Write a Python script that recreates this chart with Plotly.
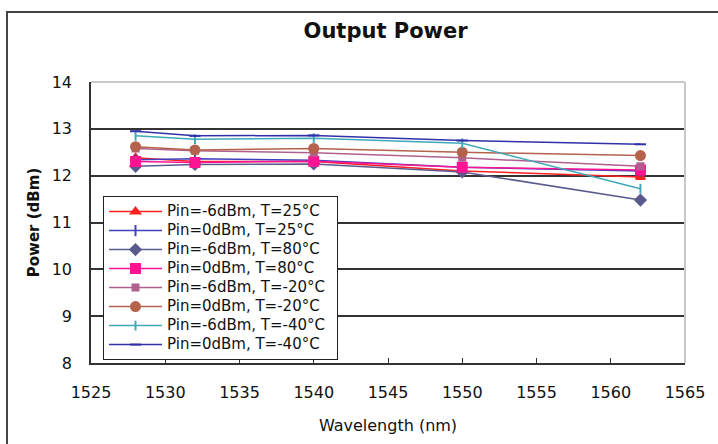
import plotly.graph_objects as go

wavelength = [1528, 1532, 1540, 1550, 1562]

names = [
    "Pin=-6dBm, T=25°C",
    "Pin=0dBm, T=25°C",
    "Pin=-6dBm, T=80°C",
    "Pin=0dBm, T=80°C",
    "Pin=-6dBm, T=-20°C",
    "Pin=0dBm, T=-20°C",
    "Pin=-6dBm, T=-40°C",
    "Pin=0dBm, T=-40°C",
]

p_m6_25 = [12.38, 12.30, 12.30, 12.10, 11.97]
p_0_25 = [12.34, 12.36, 12.33, 12.18, 12.10]
p_m6_80 = [12.20, 12.24, 12.25, 12.08, 11.48]
p_0_80 = [12.30, 12.28, 12.31, 12.18, 12.12]
p_m6_m20 = [12.58, 12.53, 12.49, 12.38, 12.20]
p_0_m20 = [12.62, 12.55, 12.58, 12.50, 12.43]
p_m6_m40 = [12.85, 12.78, 12.80, 12.69, 11.72]
p_0_m40 = [12.95, 12.85, 12.86, 12.75, 12.67]

series = [p_m6_25, p_0_25, p_m6_80, p_0_80, p_m6_m20, p_0_m20, p_m6_m40, p_0_m40]

colors = ["#FF2020", "#4040C0", "#5A5A8E", "#FF1493", "#B0608F", "#B5624C", "#40A8B8", "#3030A8"]
symbols = ["triangle-up", "line-ns-open", "diamond", "square", "square", "circle", "line-ns-open", "line-ew-open"]
sizes = [8, 8, 8, 9, 6, 9, 7, 8]

font = "DejaVu Sans, Verdana, sans-serif"

fig = go.Figure()
for name, vals, c, s, sz in zip(names, series, colors, symbols, sizes):
    fig.add_trace(go.Scatter(
        x=wavelength, y=vals,
        name='<span style="font-size:15px">' + name + '</span>\u00a0\u00a0',
        mode="lines+markers",
        line=dict(color=c, width=1.5),
        marker=dict(symbol=s, size=sz, color=c, line=dict(color=c, width=2)),
    ))

fig.update_layout(
    width=718, height=444,
    margin=dict(l=91, r=33, t=82, b=81),
    paper_bgcolor="white", plot_bgcolor="white",
    font=dict(family=font, size=16, color="#111"),
    title=dict(text="<b>Output Power</b>", x=0.537, xanchor="center", y=0.93, yanchor="middle",
               font=dict(size=21, family=font, color="#111")),
    showlegend=True,
    legend=dict(x=0.0202, y=0.594, xanchor="left", yanchor="top",
                bordercolor="#222", borderwidth=1, bgcolor="white",
                font=dict(size=10.6, family=font), tracegroupgap=0, itemwidth=53),
    xaxis=dict(range=[1525, 1565], dtick=5, tick0=1525, showgrid=False,
               showline=True, linecolor="#333", linewidth=1.5,
               ticks="inside", ticklen=5, tickcolor="#333", ticklabelstandoff=14,
               title=dict(text="Wavelength (nm)", font=dict(size=16), standoff=19),
               zeroline=False),
    yaxis=dict(range=[8, 14], dtick=1, tick0=8, showgrid=True, gridcolor="#333", gridwidth=1.5,
               showline=True, linecolor="#333", linewidth=1.5,
               ticks="", ticklabelstandoff=14,
               title=dict(text="<b>Power (dBm)</b>", font=dict(size=15), standoff=8),
               zeroline=False),
)

# light grey plot-area border on top and right
fig.add_shape(type="line", xref="paper", yref="paper", x0=0, x1=1, y0=1, y1=1,
              line=dict(color="#C8C8C8", width=2), layer="above")
fig.add_shape(type="line", xref="paper", yref="paper", x0=1, x1=1, y0=0, y1=1,
              line=dict(color="#C8C8C8", width=2), layer="above")
# outer chart frame
fig.add_shape(type="rect", xref="paper", yref="paper", x0=-0.1414, x1=1.2, y0=-0.4, y1=1.249,
              line=dict(color="#444", width=2), layer="above")

fig.write_html("out.html", config={"displayModeBar": False},
               post_script="document.body.style.margin='0px';")
